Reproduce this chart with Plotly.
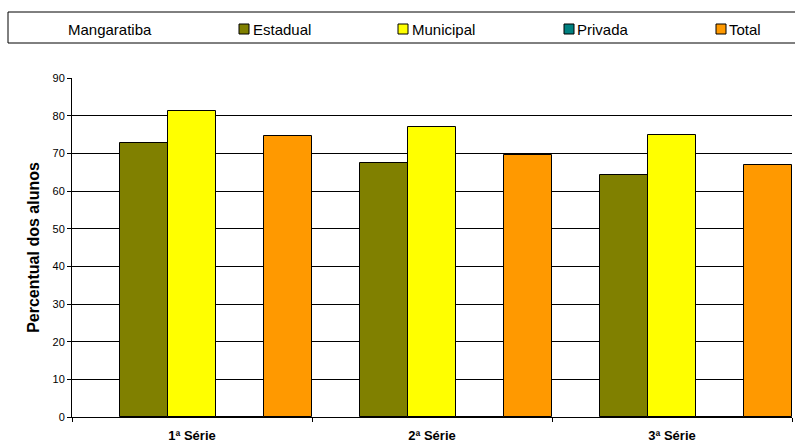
import plotly.graph_objects as go

categories = ["1ª Série", "2ª Série", "3ª Série"]
series_names = ["Mangaratiba", "Estadual", "Municipal", "Privada", "Total"]
mangaratiba = [0, 0, 0]
estadual = [72.7, 67.4, 64.2]
municipal = [81.2, 77.0, 75.0]
privada = [0, 0, 0]
total = [74.6, 69.5, 67.0]
y_ticks = [0, 10, 20, 30, 40, 50, 60, 70, 80, 90]

values = [mangaratiba, estadual, municipal, privada, total]
colors = ["rgba(0,0,0,0)", "#808000", "#FFFF00", "#008080", "#FF9900"]
line_colors = ["rgba(0,0,0,0)", "#000000", "#000000", "#000000", "#000000"]

fig = go.Figure()
for name, vals, col, lc in zip(series_names, values, colors, line_colors):
    fig.add_trace(go.Bar(
        x=categories, y=vals, name=name,
        marker=dict(color=col, line=dict(color=lc, width=1)),
    ))

W, H = 795, 443
ml, mr, mt, mb = 72, 3, 78, 26
pw, ph = W - ml - mr, H - mt - mb

def px_x(x):
    return (x - ml) / pw

def px_y(y):
    return (H - mb - y) / ph

# legend drawn as a boxed row (positions in pixels)
legend_marker_x = [None, 239, 398, 564, 716]
legend_text_x = [68, 253, 412, 577, 729]
legend_y = 29
shapes = [dict(
    type="rect", xref="paper", yref="paper",
    x0=px_x(8), x1=px_x(805), y0=px_y(43), y1=px_y(12),
    line=dict(color="#000000", width=1), fillcolor="white", layer="below",
)]
annotations = []
for name, col, mx, tx in zip(series_names, colors, legend_marker_x, legend_text_x):
    if mx is not None:
        shapes.append(dict(
            type="rect", xref="paper", yref="paper",
            x0=px_x(mx), x1=px_x(mx + 10), y0=px_y(legend_y + 5), y1=px_y(legend_y - 5),
            line=dict(color="#000000", width=1), fillcolor=col,
        ))
    annotations.append(dict(
        text=name, xref="paper", yref="paper",
        x=px_x(tx), y=px_y(legend_y), xanchor="left", yanchor="middle",
        showarrow=False, font=dict(size=15), xshift=-2,
    ))

fig.update_layout(
    width=W, height=H,
    margin=dict(l=ml, r=mr, t=mt, b=mb, autoexpand=False),
    paper_bgcolor="white", plot_bgcolor="white",
    barmode="group", bargap=0, bargroupgap=0,
    showlegend=False,
    font=dict(family="Liberation Sans, Arial, sans-serif", color="#000000"),
    shapes=shapes,
    annotations=annotations,
    yaxis=dict(
        range=[0, 90], tickvals=y_ticks, ticks="outside", ticklen=4,
        tickcolor="#000000", tickfont=dict(size=11),
        showline=True, linecolor="#000000", linewidth=1,
        showgrid=True, gridcolor="#000000", gridwidth=1,
        zeroline=False,
        title=dict(text="<b>Percentual dos alunos</b>", font=dict(size=16), standoff=8),
    ),
    xaxis=dict(
        ticks="outside", tickson="boundaries", ticklen=4, tickcolor="#000000",
        showline=True, linecolor="#000000", linewidth=1,
        tickfont=dict(size=13), ticklabelstandoff=6,
        tickvals=categories, ticktext=["<b>%s</b>" % c for c in categories],
    ),
)

fig.write_html(
    "out.html",
    config={"displayModeBar": False},
    post_script="document.body.style.margin='0';document.body.style.overflow='hidden';",
)
